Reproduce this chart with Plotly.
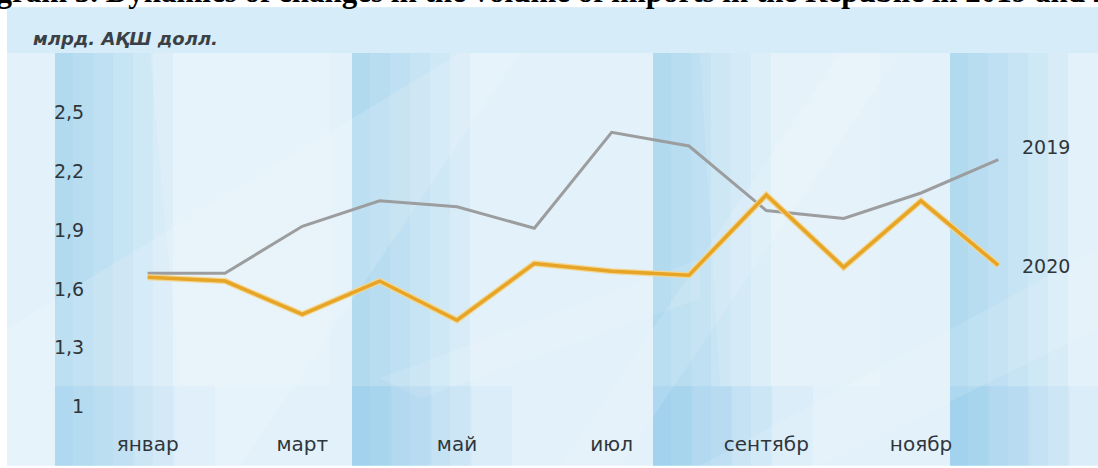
import plotly.graph_objects as go

# Monthly imports, bln USD
month_index = list(range(1, 13))
imports_2019 = [1.68, 1.68, 1.92, 2.05, 2.02, 1.91, 2.40, 2.33, 2.00, 1.96, 2.09, 2.26]
imports_2020 = [1.66, 1.64, 1.47, 1.64, 1.44, 1.73, 1.69, 1.67, 2.08, 1.71, 2.05, 1.72]

x_tick_vals = [1, 3, 5, 7, 9, 11]
x_tick_text = ["январ", "март", "май", "июл", "сентябр", "ноябр"]
y_tick_vals = [1.0, 1.3, 1.6, 1.9, 2.2, 2.5]
y_tick_text = ["1", "1,3", "1,6", "1,9", "2,2", "2,5"]

W, H = 1098, 468
ML, MR, MT, MB = 109, 61, 54, 44
L, R, T, B = ML, W - MR, MT, H - MB


def px(xp):
    return (xp - L) / (R - L)


def py(yp):
    return (B - yp) / (B - T)


shapes = []


def rect(x0, y0, x1, y1, color, opacity):
    shapes.append(dict(type="rect", xref="paper", yref="paper",
                       x0=px(x0), x1=px(x1), y0=py(y1), y1=py(y0),
                       fillcolor=color, opacity=opacity, line=dict(width=0),
                       layer="below"))


def poly(points, color, opacity):
    d = "M " + " L ".join(f"{px(a):.5f},{py(b):.5f}" for a, b in points) + " Z"
    shapes.append(dict(type="path", xref="paper", yref="paper", path=d,
                       fillcolor=color, opacity=opacity, line=dict(width=0),
                       layer="below"))


# light blue backdrop
rect(7, 7, W, H, "#e2f1fa", 1.0)
rect(7, 7, W, 53, "#d6ecf8", 1.0)

# tiled panels, darker on their left edge and fading to the right
for col in [55, 352, 653, 950]:
    for k in range(6):
        w = 18 + 20 * k
        rect(col, 53, min(col + w, W), H, "#5fb6e6", 0.065)
    for k in range(4):
        w = 40 + 40 * k
        rect(col, 388, min(col + w, W), H, "#6fbde8", 0.06)

# soft diagonal streaks
poly([(7, 330), (7, 468), (240, 468), (520, 53), (460, 53)], "#ffffff", 0.14)
poly([(560, 468), (620, 468), (900, 53), (840, 53)], "#ffffff", 0.12)
poly([(700, 468), (1098, 250), (1098, 330), (820, 468)], "#ffffff", 0.12)
poly([(380, 380), (700, 260), (700, 300), (420, 400)], "#ffffff", 0.10)
poly([(150, 53), (330, 53), (330, 388), (180, 388)], "#ffffff", 0.14)
poly([(700, 53), (880, 53), (880, 388), (720, 388)], "#ffffff", 0.12)

fig = go.Figure()

fig.add_trace(go.Scatter(
    x=month_index, y=imports_2019, mode="lines", name="2019",
    line=dict(color="#9c9d9f", width=3), hoverinfo="skip"))
fig.add_trace(go.Scatter(
    x=month_index, y=imports_2020, mode="lines", name="2020",
    line=dict(color="#f3d58f", width=6), hoverinfo="skip", showlegend=False))
fig.add_trace(go.Scatter(
    x=month_index, y=imports_2020, mode="lines", name="2020",
    line=dict(color="#e6a526", width=3.5), hoverinfo="skip"))

label_font = dict(family="DejaVu Sans", size=19, color="#2f363b")

annotations = [
    dict(x=12, y=imports_2019[-1], xref="x", yref="y", text="2019",
         showarrow=False, xanchor="left", yanchor="middle", xshift=22, yshift=13,
         font=label_font),
    dict(x=12, y=imports_2020[-1], xref="x", yref="y", text="2020",
         showarrow=False, xanchor="left", yanchor="middle", xshift=22, yshift=-1,
         font=label_font),
    dict(x=px(31), y=py(38), xref="paper", yref="paper",
         text="<b><i>млрд. АҚШ долл.</i></b>",
         showarrow=False, xanchor="left", yanchor="middle",
         font=dict(family="DejaVu Sans", size=18, color="#3a4146")),
    dict(x=px(-52), y=py(11), xref="paper", yref="paper",
         text="<b>Diagram 3. Dynamics of changes in the volume of imports in the Republic in 2019 and 2020</b>",
         showarrow=False, xanchor="left", yanchor="bottom",
         font=dict(family="Liberation Serif", size=31, color="#000000")),
]

fig.update_layout(
    width=W, height=H,
    margin=dict(l=ML, r=MR, t=MT, b=MB, pad=0),
    paper_bgcolor="#ffffff",
    plot_bgcolor="rgba(0,0,0,0)",
    showlegend=False,
    shapes=shapes,
    annotations=annotations,
    xaxis=dict(range=[0.5, 12.5], tickvals=x_tick_vals, ticktext=x_tick_text,
               showgrid=False, zeroline=False, showline=False,
               ticks="outside", ticklen=4, tickcolor="rgba(0,0,0,0)",
               tickfont=dict(family="DejaVu Sans", size=20, color="#2f363b")),
    yaxis=dict(range=[0.92, 2.8], tickvals=y_tick_vals, ticktext=y_tick_text,
               showgrid=False, zeroline=False, showline=False,
               ticks="outside", ticklen=20, tickcolor="rgba(0,0,0,0)",
               tickfont=dict(family="DejaVu Sans", size=19, color="#2f363b")),
)

fig.write_html("out.html")
